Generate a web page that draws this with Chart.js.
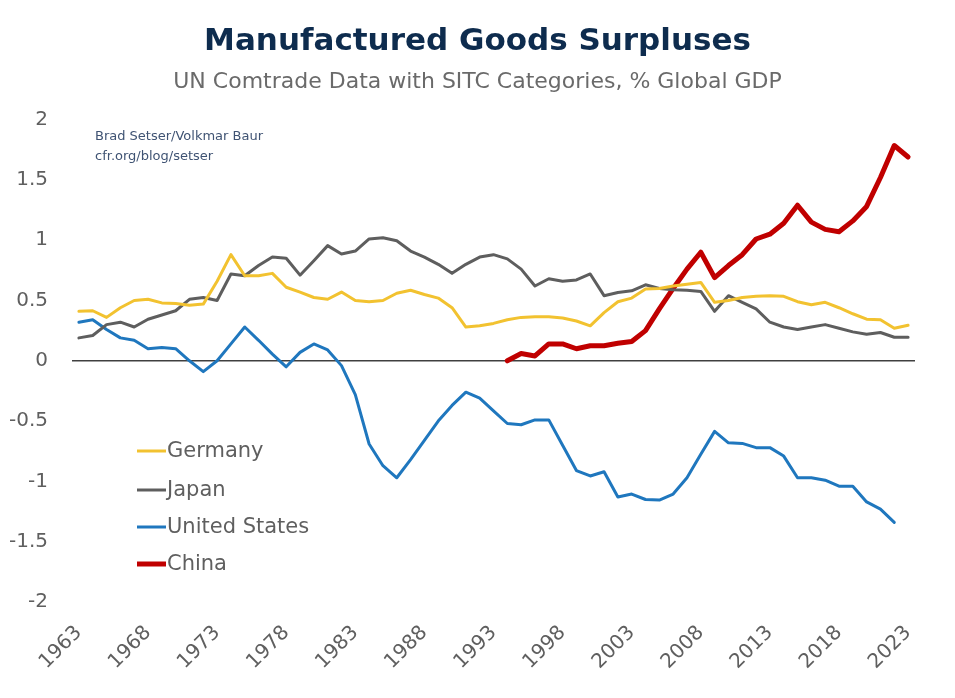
<!DOCTYPE html>
<html>
<head>
<meta charset="utf-8">
<script src="https://cdn.jsdelivr.net/npm/chart.js@4"></script>
<style>
html,body{margin:0;padding:0;background:#fff;}
#wrap{width:955px;height:698px;position:relative;}
</style>
</head>
<body>
<div id="wrap"><canvas id="c" width="955" height="698"></canvas></div>
<script>
const years = [];
for (let y = 1963; y <= 2023; y++) years.push(String(y));

const germany = [0.41,0.415,0.36,0.44,0.50,0.51,0.48,0.475,0.46,0.47,
  0.66,0.88,0.705,0.705,0.725,0.61,0.57,0.525,0.51,0.57,
  0.50,0.49,0.50,0.56,0.585,0.55,0.52,0.44,0.28,0.29,
  0.31,0.34,0.36,0.365,0.365,0.355,0.33,0.29,0.40,0.49,
  0.52,0.595,0.60,0.62,0.635,0.65,0.485,0.50,0.525,0.535,
  0.54,0.535,0.49,0.465,0.485,0.44,0.39,0.345,0.34,0.27,0.295];

const japan = [0.19,0.21,0.30,0.32,0.28,0.345,0.38,0.415,0.51,0.525,
  0.50,0.72,0.705,0.79,0.86,0.85,0.71,0.83,0.955,0.885,
  0.91,1.01,1.02,0.995,0.91,0.86,0.80,0.725,0.80,0.86,
  0.88,0.845,0.76,0.62,0.68,0.66,0.67,0.72,0.54,0.567,
  0.58,0.63,0.60,0.59,0.585,0.575,0.41,0.54,0.485,0.43,
  0.32,0.28,0.26,0.28,0.30,0.27,0.24,0.22,0.235,0.195,0.195];

const unitedStates = [0.32,0.34,0.26,0.19,0.17,0.10,0.11,0.10,0.0,-0.09,
  0.0,0.14,0.28,0.17,0.055,-0.05,0.07,0.14,0.09,-0.04,
  -0.28,-0.69,-0.87,-0.97,-0.82,-0.66,-0.50,-0.37,-0.26,-0.31,
  -0.415,-0.52,-0.53,-0.49,-0.49,-0.70,-0.91,-0.955,-0.92,-1.13,
  -1.105,-1.15,-1.155,-1.105,-0.97,-0.775,-0.585,-0.68,-0.685,-0.72,
  -0.72,-0.79,-0.97,-0.97,-0.99,-1.04,-1.04,-1.17,-1.23,-1.34,null];

// China starts in 1994
const chinaStart = 1994;
const chinaValues = [0.0,0.06,0.04,0.14,0.14,0.10,0.125,0.125,0.145,0.16,
  0.25,0.43,0.60,0.76,0.90,0.69,0.79,0.88,1.01,1.05,
  1.14,1.29,1.15,1.09,1.07,1.16,1.28,1.52,1.785,1.69];
const china = years.map(y => {
  const i = Number(y) - chinaStart;
  return i >= 0 && i < chinaValues.length ? chinaValues[i] : null;
});

const tickYears = ['1963','1968','1973','1978','1983','1988','1993','1998','2003','2008','2013','2018','2023'];

const seriesNames = ['Germany','Japan','United States','China'];
const seriesColors = ['#F2C230','#5E5E5E','#1F77BE','#C00000'];
const seriesWidths = [3,3,3,5];
const seriesData = [germany, japan, unitedStates, china];

const sourceLines = ['Brad Setser/Volkmar Baur','cfr.org/blog/setser'];

const FONT = '"DejaVu Sans", "Noto Sans", sans-serif';

const overlay = {
  id: 'overlay',
  afterDraw(chart) {
    const ctx = chart.ctx;
    ctx.save();
    // source note
    ctx.fillStyle = '#3F5373';
    ctx.font = '13px ' + FONT;
    ctx.textAlign = 'left';
    ctx.textBaseline = 'middle';
    ctx.fillText(sourceLines[0], 95, 137);
    ctx.fillText(sourceLines[1], 95, 157);
    // legend
    const rows = [451, 490, 527, 564];
    chart.data.datasets.forEach((ds, i) => {
      const y = rows[i];
      ctx.strokeStyle = ds.borderColor;
      ctx.lineWidth = ds.borderWidth;
      ctx.lineCap = 'butt';
      ctx.beginPath();
      ctx.moveTo(137, y);
      ctx.lineTo(166, y);
      ctx.stroke();
      ctx.fillStyle = '#5F5F5F';
      ctx.font = '21px ' + FONT;
      ctx.fillText(ds.label, 167, y + 1);
    });
    ctx.restore();
  }
};

new Chart(document.getElementById('c'), {
  type: 'line',
  data: {
    labels: years,
    datasets: seriesNames.map((n, i) => ({
      label: n,
      data: seriesData[i],
      borderColor: seriesColors[i],
      backgroundColor: seriesColors[i],
      borderWidth: seriesWidths[i],
      pointRadius: 0,
      tension: 0,
      spanGaps: false,
      borderJoinStyle: 'round',
      borderCapStyle: 'round'
    }))
  },
  options: {
    responsive: false,
    animation: false,
    devicePixelRatio: 1,
    layout: { padding: { left: 0, right: 0, top: 0, bottom: 0 } },
    plugins: {
      legend: { display: false },
      tooltip: { enabled: false },
      title: {
        display: true,
        text: 'Manufactured Goods Surpluses',
        color: '#0E2C4E',
        font: { family: FONT, size: 31, weight: 'bold' },
        padding: { top: 23, bottom: 0 }
      },
      subtitle: {
        display: true,
        text: 'UN Comtrade Data with SITC Categories, % Global GDP',
        color: '#6A6A6A',
        font: { family: FONT, size: 22 },
        padding: { top: 9, bottom: 24 }
      }
    },
    scales: {
      x: {
        type: 'category',
        offset: true,
        grid: { display: false },
        border: { display: false },
        ticks: {
          autoSkip: false,
          maxRotation: 45,
          minRotation: 45,
          color: '#5F5F5F',
          font: { family: FONT, size: 20 },
          padding: 11,
          callback: function(value, index) {
            const lab = this.getLabelForValue(value);
            return tickYears.includes(lab) ? lab : '';
          }
        },
        afterFit(scale) { scale.height = 96; }
      },
      y: {
        min: -2,
        max: 2,
        grid: {
          drawTicks: false,
          color: ctx => (ctx.tick && ctx.tick.value === 0) ? '#404040' : 'rgba(0,0,0,0)',
          lineWidth: 1.5
        },
        border: { display: false },
        ticks: {
          stepSize: 0.5,
          color: '#5F5F5F',
          font: { family: FONT, size: 20 },
          padding: 24,
          callback: v => String(Math.round(v * 10) / 10)
        },
        afterFit(scale) { scale.width = 72; }
      },
      yRightSpace: {
        position: 'right',
        min: -2,
        max: 2,
        grid: { display: false },
        border: { display: false },
        ticks: { display: false },
        afterFit(scale) { scale.width = 40; }
      }
    }
  },
  plugins: [overlay]
});
</script>
</body>
</html>
